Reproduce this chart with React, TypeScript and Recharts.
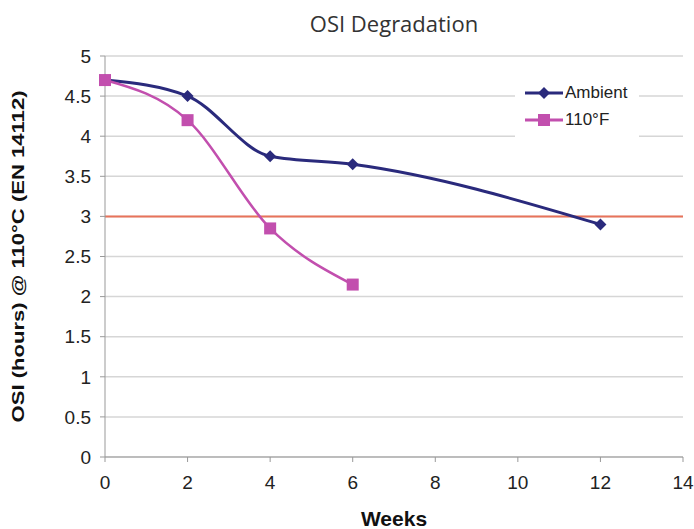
import React from 'react';
import {
  ComposedChart,
  Line,
  XAxis,
  YAxis,
  CartesianGrid,
  Legend,
  ReferenceLine
} from 'recharts';

const weeks = [0, 2, 4, 6, 12];
const ambient = [4.7, 4.5, 3.75, 3.65, 2.9];
const hot = [4.7, 4.2, 2.85, 2.15, null];
const xTicks = [0, 2, 4, 6, 8, 10, 12, 14];
const yTicks = [0, 0.5, 1, 1.5, 2, 2.5, 3, 3.5, 4, 4.5, 5];
const limit = 3;

const data = weeks.map((w, i) => ({ week: w, Ambient: ambient[i], hot: hot[i] }));

const NAVY = '#2a2a7c';
const PINK = '#c24fae';
const FONT = '"Liberation Sans", Arial, sans-serif';

const Diamond = (props: any) => {
  const { cx, cy } = props;
  if (cx == null || cy == null) return <g />;
  return <polygon points={`${cx},${cy - 6} ${cx + 6},${cy} ${cx},${cy + 6} ${cx - 6},${cy}`} fill={NAVY} />;
};

const Square = (props: any) => {
  const { cx, cy, payload } = props;
  if (cx == null || cy == null || payload.hot == null) return <g />;
  return <rect x={cx - 6} y={cy - 6} width={12} height={12} fill={PINK} />;
};

const LegendBox = () => (
  <div style={{ background: '#fff', padding: '4px 12px 4px 10px', fontFamily: FONT, fontSize: 17, color: '#222' }}>
    {[{ name: 'Ambient', color: NAVY, m: 'd' }, { name: '110°F', color: PINK, m: 's' }].map((it) => (
      <div key={it.name} style={{ display: 'flex', alignItems: 'center', height: 27 }}>
        <svg width={38} height={14}>
          <line x1={0} y1={7} x2={38} y2={7} stroke={it.color} strokeWidth={3} />
          {it.m === 'd' ? (
            <polygon points="19,1 25,7 19,13 13,7" fill={it.color} />
          ) : (
            <rect x={13} y={1} width={12} height={12} fill={it.color} />
          )}
        </svg>
        <span style={{ marginLeft: 2 }}>{it.name}</span>
      </div>
    ))}
  </div>
);

const YLabel = (props: any) => {
  const vb = props.viewBox || {};
  const cx = 20;
  const cy = vb.y + vb.height / 2;
  return (
    <text x={cx} y={cy} transform={`rotate(-90 ${cx} ${cy})`} textAnchor="middle" dominantBaseline="middle"
      fontFamily={FONT} fontSize={17} fontWeight="bold" fill="#111" textLength={332} lengthAdjust="spacingAndGlyphs">
      OSI (hours) @ 110°C (EN 14112)
    </text>
  );
};

export default function App() {
  return (
    <div style={{ position: 'absolute', left: 0, top: 0, width: 694, height: 529, background: '#fff' }}>
      <div style={{ position: 'absolute', left: 105, width: 578, top: 8, textAlign: 'center',
        fontFamily: '"Open Sans", sans-serif', fontSize: 22, color: '#333' }}>
        OSI Degradation
      </div>
      <ComposedChart width={694} height={529} data={data} margin={{ top: 56, right: 11, left: 0, bottom: 0 }}>
        <CartesianGrid vertical={false} stroke="#d6d6d6" strokeWidth={1.5} />
        <XAxis
          dataKey="week"
          type="number"
          domain={[0, 14]}
          ticks={xTicks}
          height={72}
          stroke="#999"
          tickSize={5}
          tick={{ fill: '#222', fontSize: 19, fontFamily: FONT }}
          tickMargin={14}
          label={{ value: 'Weeks', position: 'insideBottom', offset: 3, fill: '#111', fontSize: 21, fontWeight: 'bold', fontFamily: FONT }}
        />
        <YAxis
          type="number"
          domain={[0, 5]}
          ticks={yTicks}
          width={105}
          stroke="#999"
          tickSize={5}
          tickMargin={9}
          tick={{ fill: '#222', fontSize: 19, fontFamily: FONT }}
          label={<YLabel />}
        />
        <ReferenceLine y={limit} stroke="#e8735a" strokeWidth={2} ifOverflow="extendDomain" />
        <Legend
          layout="vertical"
          verticalAlign="middle"
          align="center"
          wrapperStyle={{ left: 515, top: 75, width: 'auto', height: 'auto' }}
          content={<LegendBox />}
        />
        <Line type="monotone" dataKey="Ambient" stroke={NAVY} strokeWidth={3} dot={<Diamond />} isAnimationActive={false} />
        <Line type="monotone" dataKey="hot" name="110°F" stroke={PINK} strokeWidth={2.5} dot={<Square />} isAnimationActive={false} connectNulls={false} />
      </ComposedChart>
    </div>
  );
}
